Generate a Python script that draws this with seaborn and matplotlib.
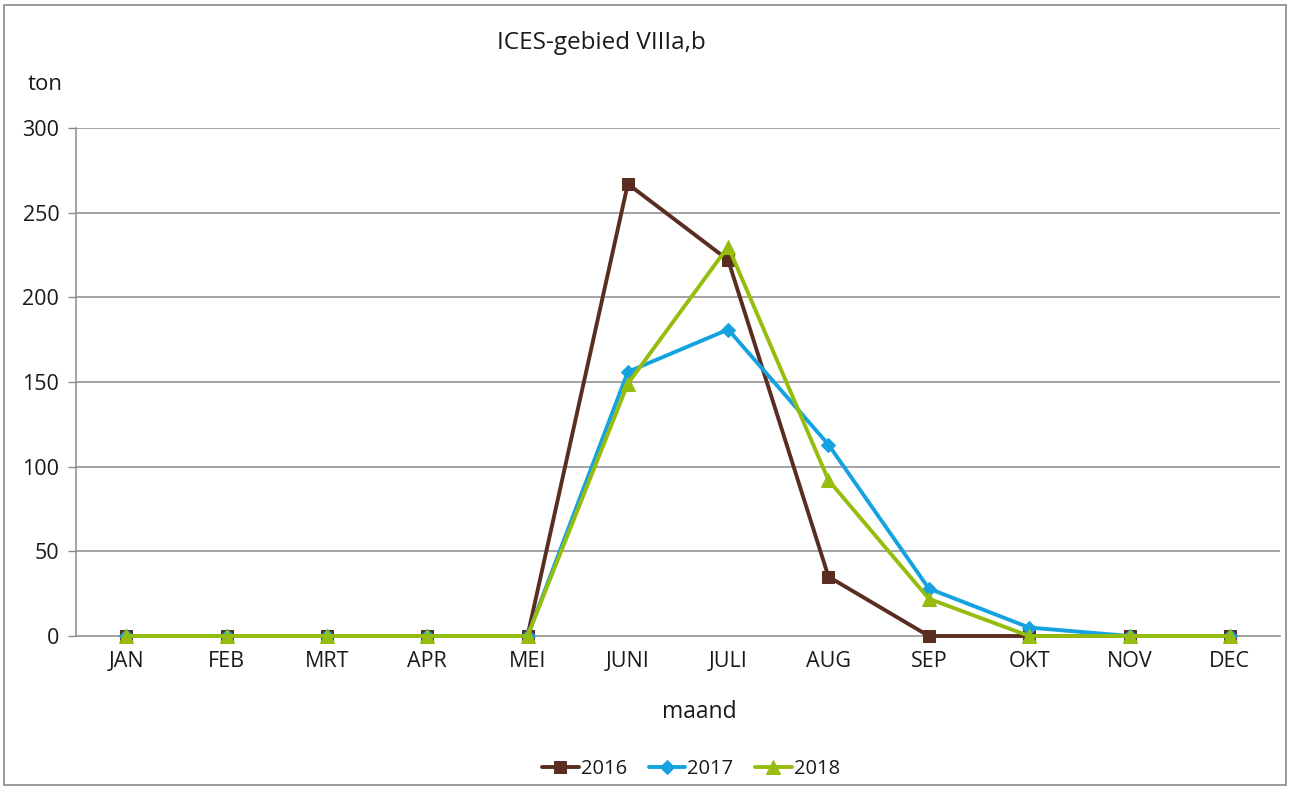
import matplotlib
matplotlib.use("Agg")
import matplotlib.pyplot as plt
from matplotlib.patches import Rectangle
import seaborn as sns
import pandas as pd

# Monthly landings (ton) per year
months = ["JAN", "FEB", "MRT", "APR", "MEI", "JUNI", "JULI", "AUG", "SEP", "OKT", "NOV", "DEC"]
years = ["2016", "2017", "2018"]
v2016 = [0, 0, 0, 0, 0, 267, 222, 35, 0, 0, 0, 0]
v2017 = [0, 0, 0, 0, 0, 156, 181, 113, 28, 5, 0, 0]
v2018 = [0, 0, 0, 0, 0, 149, 230, 92, 22, 0, 0, 0]
yticks = [0, 50, 100, 150, 200, 250, 300]

colors = {"2016": "#5a2d20", "2017": "#14a3e0", "2018": "#96bd0d"}
markers = {"2016": "s", "2017": "D", "2018": "^"}
msizes = {"2016": 9, "2017": 7, "2018": 10}

rows = []
for yr, vals in zip(years, [v2016, v2017, v2018]):
    for i, (m, v) in enumerate(zip(months, vals)):
        rows.append({"pos": i, "maand": m, "jaar": yr, "ton": v})
df = pd.DataFrame(rows)

sns.set_theme(style="white")
plt.rcParams["font.family"] = ["Open Sans", "DejaVu Sans"]

fig = plt.figure(figsize=(12.9, 7.89), dpi=100)
ax = fig.add_axes([76 / 1290, 1 - 636 / 789, (1280 - 76) / 1290, (636 - 128) / 789])

ax.set_axisbelow(True)
for yv in yticks[1:]:
    ax.axhline(yv, color="#8a8a8a", lw=1.1, zorder=0)

for yr in years:
    sub = df[df["jaar"] == yr]
    sns.lineplot(data=sub, x="pos", y="ton", ax=ax, color=colors[yr], lw=2.8,
                 marker=markers[yr], markersize=msizes[yr], markeredgecolor=colors[yr],
                 label=yr, legend=False, zorder=3, clip_on=False)

txt = "#1a1a1a"
ax.set_xlim(-0.5, 11.5)
ax.set_ylim(0, 300)
ax.set_yticks(yticks)
ax.set_yticklabels([str(t) for t in yticks], fontsize=15.5, color=txt)
ax.set_xticks(range(12))
ax.set_xticklabels(months, fontsize=15.5, color=txt)
ax.tick_params(axis="x", which="major", length=0, pad=11)
ax.set_xticks([i - 0.5 for i in range(13)], minor=True)
ax.tick_params(axis="x", which="minor", length=6, width=1, color="#8a8a8a", direction="out")
ax.tick_params(axis="y", length=6, width=1, color="#8a8a8a", direction="out", pad=6, left=True)
for s in ["top", "right"]:
    ax.spines[s].set_visible(False)
for s in ["left", "bottom"]:
    ax.spines[s].set_color("#8a8a8a")
    ax.spines[s].set_linewidth(1.1)
ax.set_xlabel("")
ax.set_ylabel("")

fig.text(601 / 1290, 1 - 43 / 789, "ICES-gebied VIIIa,b", ha="center", va="center", fontsize=17.5, color=txt)
fig.text(45 / 1290, 1 - 84 / 789, "ton", ha="center", va="center", fontsize=16, color=txt)
fig.text(699 / 1290, 1 - 712 / 789, "maand", ha="center", va="center", fontsize=16.5, color=txt)

handles, labels = ax.get_legend_handles_labels()
fig.legend(handles, labels, loc="center", bbox_to_anchor=(691 / 1290, 1 - 769 / 789), ncol=3,
           frameon=False, fontsize=14.5, handlelength=1.8, handletextpad=0.1, columnspacing=1.1,
           labelcolor=txt)

fig.add_artist(Rectangle((4 / 1290, 4 / 789), 1282 / 1290, 780 / 789, transform=fig.transFigure,
                         fill=False, edgecolor="#8a8a8a", lw=1.2))

fig.savefig("out.png", dpi=100, facecolor="white")
